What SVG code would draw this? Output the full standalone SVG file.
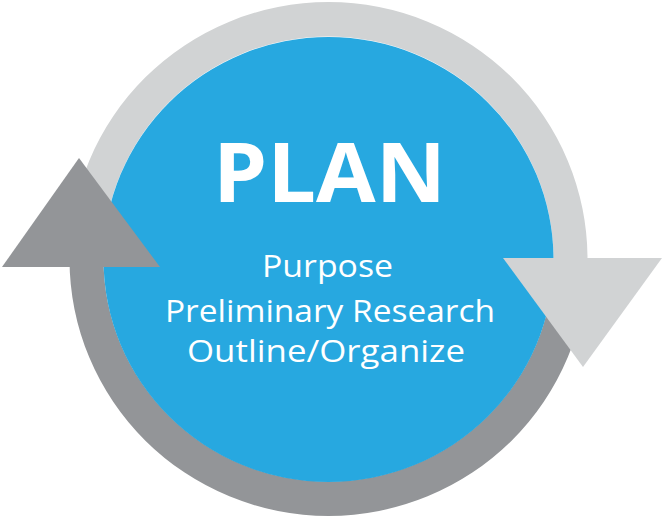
<svg xmlns="http://www.w3.org/2000/svg" width="663" height="518" viewBox="0 0 663 518">
<style>
.light{fill:#d1d3d4}
.dark{fill:#939598}
.blue{fill:#27a8e0}
.title{font-family:"Open Sans","Liberation Sans",sans-serif;font-weight:700;font-size:82px;fill:#fff;text-anchor:middle}
.sub{font-family:"Open Sans","Liberation Sans",sans-serif;font-weight:400;font-size:31px;fill:#fff;text-anchor:middle}
</style>
<rect width="663" height="518" fill="#fff"/>
<g id="connectors">
<path class="dark" d="M69.5 259 A259 257 0 0 0 587.5 259 L553.5 259 A225 222.5 0 0 1 103.5 259 Z"/>
<path class="light" d="M69.5 259 A259 257 0 0 1 587.5 259 L553.5 259 A225 222.5 0 0 0 103.5 259 Z"/>
</g>
<g id="plan">
<ellipse class="blue" cx="328.5" cy="259.5" rx="225" ry="222.5"/>
</g>
<g id="arrows">
<polygon class="dark" points="79,158 2,267 160,267"/>
<polygon class="light" points="503,258 662,258 583,367"/>
</g>
<g id="labels">
<text class="title" x="329.5" y="202" textLength="233" lengthAdjust="spacingAndGlyphs">PLAN</text>
<text class="sub" x="327.5" y="277" textLength="131" lengthAdjust="spacingAndGlyphs">Purpose</text>
<text class="sub" x="330" y="322" textLength="330" lengthAdjust="spacingAndGlyphs">Preliminary Research</text>
<text class="sub" x="326" y="362" textLength="278" lengthAdjust="spacingAndGlyphs">Outline/Organize</text>
</g>
</svg>
